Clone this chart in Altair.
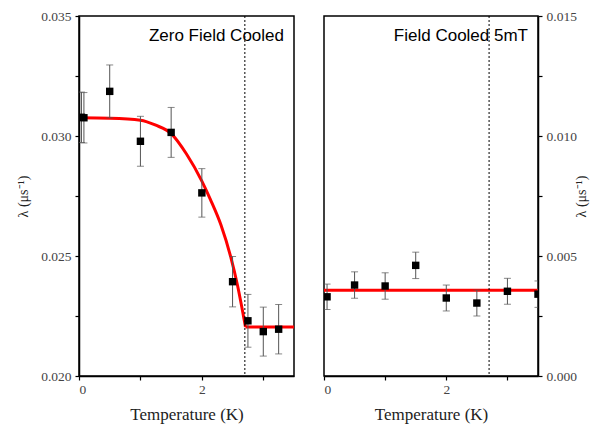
import altair as alt
import pandas as pd

# ---------------- data ----------------
ZFC_T = [0.04, 0.08, 0.5, 1.0, 1.5, 2.0, 2.5, 2.75, 3.0, 3.25]
ZFC_L = [0.03078, 0.03076, 0.03186, 0.02978, 0.03015, 0.02763, 0.02393, 0.02230, 0.02185, 0.02195]
ZFC_E = [0.00105, 0.00105, 0.00110, 0.00104, 0.00104, 0.00101, 0.00105, 0.00110, 0.00102, 0.00103]

# fitted curve below Tc (smooth part) and the flat part above Tc
ZFC_FIT_T = [0.0, 0.5, 1.0, 1.25, 1.5, 1.75, 2.0, 2.14, 2.31, 2.47, 2.58, 2.71]
ZFC_FIT_L = [0.03076, 0.03074, 0.03066, 0.03045, 0.03010, 0.02925, 0.02812,
             0.02735, 0.02630, 0.02496, 0.02378, 0.02204]
ZFC_FLAT_T = [2.71, 3.5]
ZFC_FLAT_L = [0.02204, 0.02204]

FC_T = [0.05, 0.5, 1.0, 1.5, 2.0, 2.5, 3.0, 3.5]
FC_L = [0.00330, 0.00379, 0.00375, 0.00461, 0.00325, 0.00304, 0.00353, 0.00341]
FC_E = [0.00053, 0.00055, 0.00055, 0.00055, 0.00054, 0.00054, 0.00054, 0.00055]

FC_FIT_T = [0.0, 3.5]
FC_FIT_L = [0.00357, 0.00357]

TC = [2.7]

X_DOMAIN = [0, 3.5]
X_TICKS = [0, 1, 2, 3]
ZFC_Y_DOMAIN = [0.020, 0.035]
ZFC_Y_TICKS = [0.020, 0.0225, 0.025, 0.0275, 0.030, 0.0325, 0.035]
FC_Y_DOMAIN = [0.0, 0.015]
FC_Y_TICKS = [0.0, 0.0025, 0.005, 0.0075, 0.010, 0.0125, 0.015]

LABEL_ZFC = "Zero Field Cooled"
LABEL_FC = "Field Cooled 5mT"
X_TITLE = "Temperature (K)"
Y_TITLE = "λ (μs⁻¹)"

SERIF = "Liberation Serif"
SANS = "Liberation Sans"
XLAB = "datum.value % 2 == 0 ? datum.label : ''"
YLAB = "abs(round(datum.value * 10000)) % 50 == 0 ? format(datum.value, '.3f') : ''"


def panel(T, L, E, fits, ydom, yticks, label, left_labels, w):
    pts = pd.DataFrame({"T": T, "L": L, "lo": [l - e for l, e in zip(L, E)],
                        "hi": [l + e for l, e in zip(L, E)]})
    tc = pd.DataFrame({"T": TC})
    xs = alt.Scale(domain=X_DOMAIN, nice=False, zero=False)
    ys = alt.Scale(domain=ydom, nice=False, zero=False)

    xa = alt.Axis(orient="bottom", values=X_TICKS, labelExpr=XLAB, title=X_TITLE,
                  ticks=True, tickSize=4, labelPadding=2, titlePadding=11, grid=False)
    y_kw = dict(values=yticks, labelExpr=YLAB, title=Y_TITLE, ticks=True, tickSize=4,
                labelPadding=4, grid=False)
    if left_labels:
        ya = alt.Axis(orient="left", titlePadding=10, **y_kw)
    else:
        ya = alt.Axis(orient="right", titlePadding=12, titleAngle=270, **y_kw)

    def X(f="T"):
        return alt.X(f + ":Q", scale=xs, axis=xa)

    def Y(f):
        return alt.Y(f + ":Q", scale=ys, axis=ya)

    layers = []
    for ft, fl, interp in fits:
        fdf = pd.DataFrame({"T": ft, "L": fl})
        layers.append(alt.Chart(fdf).mark_line(color="#ff0000", strokeWidth=3, clip=True,
                                               interpolate=interp).encode(
            x=X(), y=Y("L"),
        ))
    layers.append(alt.Chart(tc).mark_rule(color="black", strokeWidth=1,
                                          strokeDash=[2, 2]).encode(x=X()))
    layers.append(alt.Chart(pts).mark_rule(color="#555555", strokeWidth=1, clip=True).encode(
        x=X(), y=Y("lo"), y2="hi:Q",
    ))
    for f in ["lo", "hi"]:
        layers.append(alt.Chart(pts).mark_tick(color="#555555", orient="horizontal", size=7,
                                               thickness=1, clip=True).encode(
            x=X(), y=Y(f),
        ))
    layers.append(alt.Chart(pts).mark_square(color="black", size=55, opacity=1,
                                             clip=True).encode(x=X(), y=Y("L")))
    layers.append(alt.Chart(pd.DataFrame({"t": [label]})).mark_text(
        font=SANS, fontSize=17, align="right", baseline="middle", color="black"
    ).encode(text="t:N", x=alt.value(w - 10), y=alt.value(20)))

    return alt.layer(*layers).properties(width=w, height=360)


left = panel(ZFC_T, ZFC_L, ZFC_E,
             [(ZFC_FIT_T, ZFC_FIT_L, "monotone"), (ZFC_FLAT_T, ZFC_FLAT_L, "linear")],
             ZFC_Y_DOMAIN, ZFC_Y_TICKS, LABEL_ZFC, True, 215)
right = panel(FC_T, FC_L, FC_E, [(FC_FIT_T, FC_FIT_L, "linear")],
              FC_Y_DOMAIN, FC_Y_TICKS, LABEL_FC, False, 214)

chart = alt.hconcat(left, right, spacing=27).properties(
    padding={"left": 7, "top": 0, "right": 0, "bottom": 0}
).configure_view(stroke="black", strokeWidth=1.5).configure_axis(
    domainColor="black", domainWidth=1.5, tickColor="black", tickWidth=1.2,
    labelFont=SERIF, labelFontSize=13.5, labelColor="#444444",
    titleFont=SERIF, titleFontSize=17, titleFontWeight="normal", titleColor="#222222",
).configure_axisY(titleFontSize=14)

chart.save("out.html", embed_options={"renderer": "svg", "actions": False})
